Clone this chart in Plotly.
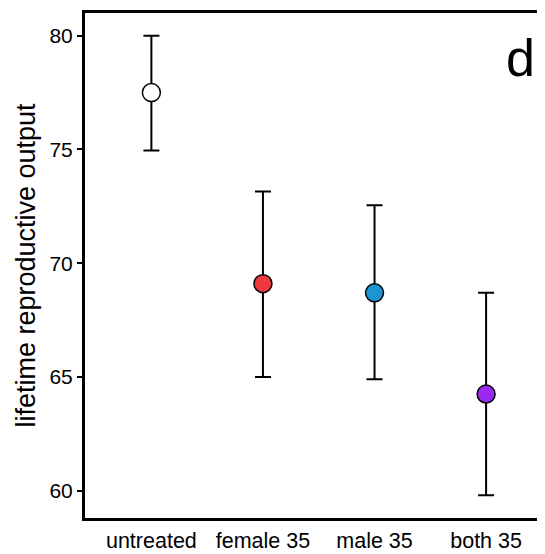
import plotly.graph_objects as go

categories = ["untreated", "female 35", "male 35", "both 35"]
means = [77.5, 69.1, 68.7, 64.25]
upper = [80.0, 73.15, 72.55, 68.7]
lower = [74.95, 65.0, 64.9, 59.8]
colors = ["#FFFFFF", "#EE3A3F", "#1C96D3", "#9B2AF0"]
y_ticks = [60, 65, 70, 75, 80]

xpos = list(range(len(categories)))
err_plus = [u - m for u, m in zip(upper, means)]
err_minus = [m - l for m, l in zip(means, lower)]

fig = go.Figure()
fig.add_trace(go.Scatter(
    x=xpos, y=means, mode="markers",
    marker=dict(size=18, color=colors, line=dict(color="black", width=1.5)),
    error_y=dict(type="data", symmetric=False, array=err_plus, arrayminus=err_minus,
                 color="black", thickness=2, width=8),
    showlegend=False,
))

font = "Liberation Sans, Arial, sans-serif"
fig.update_layout(
    width=537, height=546,
    margin=dict(l=77, r=0, t=5, b=36, pad=0, autoexpand=False),
    plot_bgcolor="white", paper_bgcolor="white",
    font=dict(family=font, size=20, color="black"),
    xaxis=dict(range=[-0.595, 3.528], tickmode="array", tickvals=xpos, ticktext=categories,
               showgrid=False, zeroline=False, showline=True, linecolor="black", linewidth=3,
               mirror=True, ticks="", tickfont=dict(size=21.5), ticklabelstandoff=1,
               automargin=False),
    yaxis=dict(range=[58.8, 81.0], tickvals=y_ticks, showgrid=False, zeroline=False,
               showline=True, linecolor="black", linewidth=3, ticks="outside", ticklen=5,
               tickwidth=1.5, tickcolor="black", tickfont=dict(size=21), automargin=False,
               title=dict(text="lifetime reproductive output", font=dict(size=27), standoff=6)),
    annotations=[dict(text="d", x=0.9457, y=0.910, xref="paper", yref="paper",
                      xanchor="center", yanchor="middle",
                      showarrow=False, font=dict(size=52, color="black"))],
)
fig.write_html("out.html")
